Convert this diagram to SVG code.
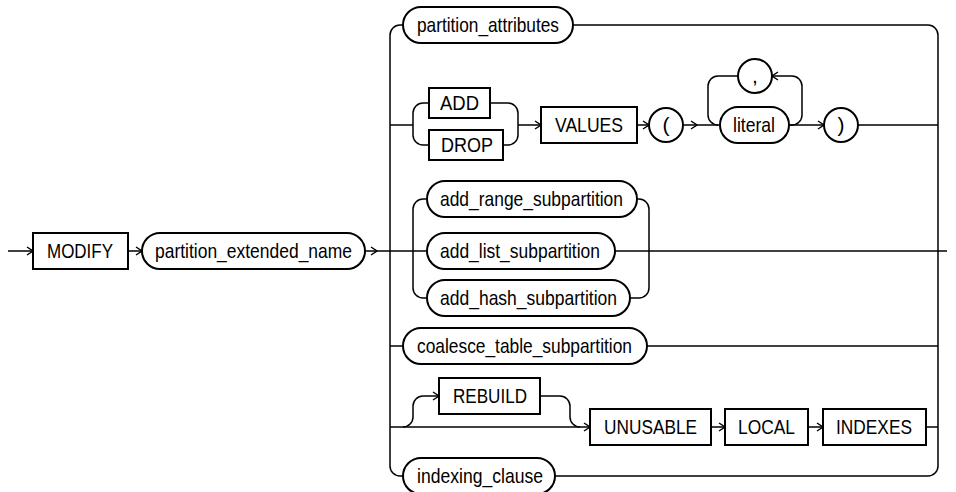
<svg xmlns="http://www.w3.org/2000/svg" width="956" height="492" viewBox="0 0 956 492">
<style>
.ln{fill:none;stroke:#000;stroke-width:1.5}
.bx{fill:#fff;stroke:#000;stroke-width:2}
.t{font-family:"Liberation Sans Narrow","Arial Narrow","Liberation Sans",Arial,sans-serif;font-size:21px;fill:#000}
</style>
<defs>
<marker id="a" markerUnits="userSpaceOnUse" markerWidth="8" markerHeight="10" refX="7" refY="5" orient="auto" viewBox="0 0 8 10">
<path d="M1,1 L7,5 L1,9" fill="none" stroke="#000" stroke-width="1.4"/>
</marker>
</defs>
<g id="connectors">
<path class="ln" d="M8,251 H33" marker-end="url(#a)"/>
<path class="ln" d="M128,251 H142" marker-end="url(#a)"/>
<path class="ln" d="M365,251 H377" marker-end="url(#a)"/>
<path class="ln" d="M376,251 H427"/>
<path class="ln" d="M938,251 H947"/>
<path class="ln" d="M403,25 H400 A10,10 0 0 0 390,35 V466 A10,10 0 0 0 400,476 H403"/>
<path class="ln" d="M573,25 H928 A10,10 0 0 1 938,35 V466 A10,10 0 0 1 928,476 H555"/>
<path class="ln" d="M390,125 H413"/>
<path class="ln" d="M413,125 V113 A10,10 0 0 1 423,103 H429"/>
<path class="ln" d="M413,125 V135 A10,10 0 0 0 423,145 H429"/>
<path class="ln" d="M490,103 H508 A10,10 0 0 1 518,113 V125"/>
<path class="ln" d="M503,145 H508 A10,10 0 0 0 518,135 V125"/>
<path class="ln" d="M518,125 H541" marker-end="url(#a)"/>
<path class="ln" d="M637,125 H649" marker-end="url(#a)"/>
<path class="ln" d="M683,125 H697" marker-end="url(#a)"/>
<path class="ln" d="M696,125 H720"/>
<path class="ln" d="M739,76 H718 A10,10 0 0 0 708,86 V115 A10,10 0 0 0 718,125"/>
<path class="ln" d="M789,125 H792 A10,10 0 0 0 802,115 V86 A10,10 0 0 0 792,76 H772" marker-end="url(#a)"/>
<path class="ln" d="M789,125 H824" marker-end="url(#a)"/>
<path class="ln" d="M858,125 H938"/>
<path class="ln" d="M413,251 V209 A10,10 0 0 1 423,199 H427"/>
<path class="ln" d="M413,251 V288 A10,10 0 0 0 423,298 H427"/>
<path class="ln" d="M637,199 H639 A10,10 0 0 1 649,209 V288 A10,10 0 0 1 639,298 H630"/>
<path class="ln" d="M615,251 H938"/>
<path class="ln" d="M390,346 H403"/>
<path class="ln" d="M647,346 H938"/>
<path class="ln" d="M390,427 H590" marker-end="url(#a)"/>
<path class="ln" d="M403,427 A10,10 0 0 0 413,417 V406 A10,10 0 0 1 423,396 H439" marker-end="url(#a)"/>
<path class="ln" d="M540,396 H560 A10,10 0 0 1 570,406 V417 A10,10 0 0 0 580,427"/>
<path class="ln" d="M711,427 H725" marker-end="url(#a)"/>
<path class="ln" d="M808,427 H823" marker-end="url(#a)"/>
<path class="ln" d="M926,427 H938"/>
</g>
<g id="n-modify"><rect class="bx" x="33" y="233" width="95" height="36"/><text class="t" x="47" y="258" textLength="66" lengthAdjust="spacingAndGlyphs">MODIFY</text></g>
<g id="n-partition-extended-name"><rect class="bx" x="142" y="233" width="223" height="36" rx="18"/><text class="t" x="155" y="258" textLength="197" lengthAdjust="spacingAndGlyphs">partition_extended_name</text></g>
<g id="n-partition-attributes"><rect class="bx" x="403" y="7" width="170" height="36" rx="18"/><text class="t" x="417" y="32" textLength="142" lengthAdjust="spacingAndGlyphs">partition_attributes</text></g>
<g id="n-add"><rect class="bx" x="429" y="88" width="61" height="30"/><text class="t" x="440" y="110" textLength="39" lengthAdjust="spacingAndGlyphs">ADD</text></g>
<g id="n-drop"><rect class="bx" x="429" y="130" width="74" height="30"/><text class="t" x="441" y="152" textLength="52" lengthAdjust="spacingAndGlyphs">DROP</text></g>
<g id="n-values"><rect class="bx" x="541" y="107" width="96" height="36"/><text class="t" x="555" y="132" textLength="68" lengthAdjust="spacingAndGlyphs">VALUES</text></g>
<g id="n-lparen"><circle class="bx" cx="666" cy="125" r="17"/><text class="t" x="666" y="132" text-anchor="middle">(</text></g>
<g id="n-comma"><circle class="bx" cx="755" cy="76" r="17"/><text class="t" x="755" y="83" text-anchor="middle">,</text></g>
<g id="n-literal"><rect class="bx" x="720" y="107" width="69" height="36" rx="18"/><text class="t" x="733" y="132" textLength="42" lengthAdjust="spacingAndGlyphs">literal</text></g>
<g id="n-rparen"><circle class="bx" cx="841" cy="125" r="17"/><text class="t" x="841" y="132" text-anchor="middle">)</text></g>
<g id="n-add-range"><rect class="bx" x="427" y="181" width="210" height="36" rx="18"/><text class="t" x="440" y="206" textLength="183" lengthAdjust="spacingAndGlyphs">add_range_subpartition</text></g>
<g id="n-add-list"><rect class="bx" x="427" y="233" width="188" height="36" rx="18"/><text class="t" x="440" y="258" textLength="160" lengthAdjust="spacingAndGlyphs">add_list_subpartition</text></g>
<g id="n-add-hash"><rect class="bx" x="427" y="280" width="203" height="36" rx="18"/><text class="t" x="440" y="305" textLength="177" lengthAdjust="spacingAndGlyphs">add_hash_subpartition</text></g>
<g id="n-coalesce"><rect class="bx" x="403" y="328" width="244" height="36" rx="18"/><text class="t" x="417" y="353" textLength="215" lengthAdjust="spacingAndGlyphs">coalesce_table_subpartition</text></g>
<g id="n-rebuild"><rect class="bx" x="439" y="378" width="101" height="36"/><text class="t" x="453" y="403" textLength="74" lengthAdjust="spacingAndGlyphs">REBUILD</text></g>
<g id="n-unusable"><rect class="bx" x="590" y="409" width="121" height="36"/><text class="t" x="604" y="434" textLength="93" lengthAdjust="spacingAndGlyphs">UNUSABLE</text></g>
<g id="n-local"><rect class="bx" x="725" y="409" width="83" height="36"/><text class="t" x="738" y="434" textLength="57" lengthAdjust="spacingAndGlyphs">LOCAL</text></g>
<g id="n-indexes"><rect class="bx" x="823" y="409" width="103" height="36"/><text class="t" x="836" y="434" textLength="76" lengthAdjust="spacingAndGlyphs">INDEXES</text></g>
<g id="n-indexing-clause"><rect class="bx" x="403" y="458" width="152" height="36" rx="18"/><text class="t" x="417" y="483" textLength="126" lengthAdjust="spacingAndGlyphs">indexing_clause</text></g>
</svg>
